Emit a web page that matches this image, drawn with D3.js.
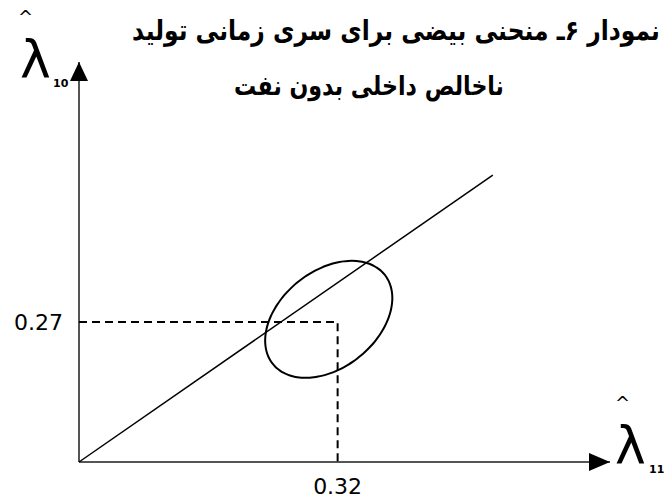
<!DOCTYPE html>
<html lang="fa">
<head>
<meta charset="utf-8">
<title>نمودار ۶</title>
<script src="https://cdn.jsdelivr.net/npm/d3@7"></script>
<style>
  body { margin: 0; background: #fff; }
  svg { display: block; }
  .title { font-family: 'DejaVu Sans', sans-serif; font-weight: bold; fill: #000; }
  .lbl { font-family: 'DejaVu Sans', sans-serif; fill: #000; }
</style>
</head>
<body>
<svg></svg>
<script>
// data (in axis units)
var titleLines = ["نمودار ۶ـ منحنی بیضی برای سری زمانی تولید", "ناخالص داخلی بدون نفت"];
var axisMax = [0.657, 0.771];          // end of x axis, end of y axis
var point = [0.32, 0.27];               // dashed reference point
var pointLabels = ["0.32", "0.27"];
var diagonal = [[0, 0], [0.512, 0.553]];
var ellCenter = [0.309, 0.275];
var ellU = [0.0692, 0.0860];            // conjugate half-axis 1
var ellV = [-0.0374, 0.0729];           // conjugate half-axis 2
var axisNames = [["λ", "11"], ["λ", "10"]];

var width = 664, height = 500;
var svg = d3.select("svg").attr("width", width).attr("height", height);

var x = d3.scaleLinear().domain([0, axisMax[0]]).range([79, 610]);
var y = d3.scaleLinear().domain([0, axisMax[1]]).range([462, 62]);
var line = d3.line().x(function(d){ return x(d[0]); }).y(function(d){ return y(d[1]); });

// title - fit each line to the width seen in the reference
var titleBox = [{cx: 396, y: 40, w: 528}, {cx: 369, y: 95, w: 270}];
svg.selectAll("text.title").data(titleLines).enter().append("text")
  .attr("class", "title")
  .attr("direction", "rtl")
  .attr("text-anchor", "middle")
  .attr("font-size", 25)
  .text(function(d){ return d; })
  .each(function(d, i){
    var t = d3.select(this);
    var fs = 25 * titleBox[i].w / this.getComputedTextLength();
    t.attr("font-size", fs)
     .attr("transform", "translate(" + titleBox[i].cx + "," + titleBox[i].y + ") scale(1,1.2)");
  });

// axes
svg.append("path").attr("d", line([[0, 0], [axisMax[0], 0]]))
  .attr("stroke", "#555").attr("stroke-width", 2).attr("fill", "none");
svg.append("path").attr("d", line([[0, 0], [0, axisMax[1]]]))
  .attr("stroke", "#555").attr("stroke-width", 2).attr("fill", "none");

// arrow heads
var xt = x(axisMax[0]), yt = y(0);
svg.append("polygon")
  .attr("points", [[xt, yt], [xt - 21, yt - 9], [xt - 21, yt + 9]].join(" "))
  .attr("fill", "#000");
var xa = x(0), ya = y(axisMax[1]);
svg.append("polygon")
  .attr("points", [[xa, ya], [xa - 9, ya + 19], [xa + 9, ya + 19]].join(" "))
  .attr("fill", "#000");

// dashed guides
svg.append("path")
  .attr("d", line([[0, point[1]], [point[0], point[1]], [point[0], 0]]))
  .attr("stroke", "#000").attr("stroke-width", 2).attr("fill", "none")
  .attr("stroke-dasharray", "8,5");

// diagonal line
svg.append("path").attr("d", line(diagonal))
  .attr("stroke", "#000").attr("stroke-width", 1.5).attr("fill", "none");

// ellipse
var ell = d3.range(0, 360, 4).map(function(a){
  var t = a * Math.PI / 180;
  return [ellCenter[0] + ellU[0]*Math.cos(t) + ellV[0]*Math.sin(t),
          ellCenter[1] + ellU[1]*Math.cos(t) + ellV[1]*Math.sin(t)];
});
svg.append("path").attr("d", d3.line().curve(d3.curveCardinalClosed)
    .x(function(d){ return x(d[0]); }).y(function(d){ return y(d[1]); })(ell))
  .attr("stroke", "#000").attr("stroke-width", 2).attr("fill", "none");

// tick labels
svg.append("text").attr("class", "lbl")
  .attr("x", x(point[0])).attr("y", 494).attr("text-anchor", "middle")
  .attr("font-size", 22).text(pointLabels[0]);
svg.append("text").attr("class", "lbl")
  .attr("x", 63).attr("y", y(point[1]) + 8).attr("text-anchor", "end")
  .attr("font-size", 22).text(pointLabels[1]);

// axis names (lambda hat)
function lambda(px, py, sub, hatX, subX) {
  var g = svg.append("g").attr("transform", "translate(" + px + "," + py + ")");
  g.append("text").attr("class", "lbl").attr("font-size", 18).attr("x", hatX).attr("y", -54).text("^");
  g.append("text").attr("class", "lbl").attr("font-size", 52).attr("x", 0).attr("y", 0).text(sub[0]);
  g.append("text").attr("class", "lbl").attr("font-size", 11).attr("font-weight", "bold")
    .attr("x", subX).attr("y", 10).text(sub[1]);
}
lambda(20, 77, axisNames[1], -2, 33);
lambda(615, 463, axisNames[0], 0, 34);
</script>
</body>
</html>
